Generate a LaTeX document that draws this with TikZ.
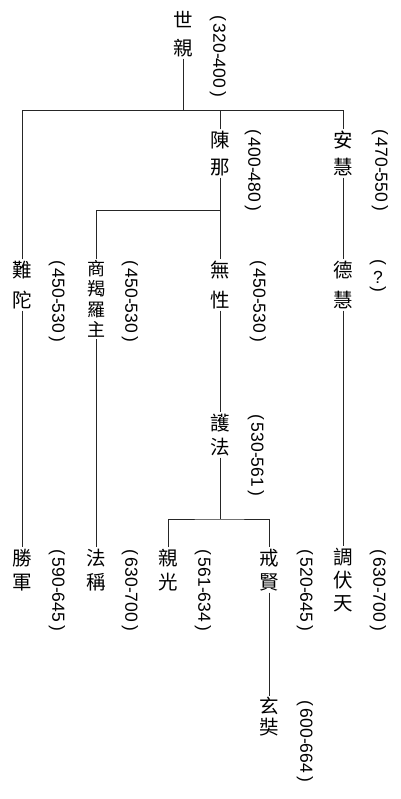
\documentclass[tikz,border=0pt]{standalone}
\usepackage{fontspec}
\setmainfont{Liberation Sans}
\newfontfamily\cjk{Noto Sans CJK TC}
\tikzset{
  nm/.style={font=\cjk\fontsize{19.5}{#1}\selectfont, align=center, inner sep=1.5pt},
  nmsmall/.style={font=\cjk\fontsize{18}{#1}\selectfont, align=center, inner sep=1.5pt},
  dt/.style={font=\fontsize{17.5}{17.5}\selectfont, rotate=-90, inner sep=0pt},
  dtv/.style={font=\fontsize{17.5}{8}\selectfont, align=center, inner sep=0pt},
  ln/.style={line width=0.8pt, black!85}
}
\newcommand{\rparenopen}{\rotatebox[origin=c]{-90}{(}}
\newcommand{\rparenclose}{\rotatebox[origin=c]{-90}{)}}
\begin{document}
\begin{tikzpicture}[x=1pt,y=-1pt]
\useasboundingbox (0,0) rectangle (400,799);
\fill[white] (0,0) rectangle (400,799);
% names
\node[nm=28] (shiqin) at (183,34) {世\\親};
\node[nm=27] (chenna) at (220,153.5) {陳\\那};
\node[nm=27] (anhui) at (343,153.5) {安\\慧};
\node[nm=30] (nanda) at (22,285) {難\\陀};
\node[nmsmall=20.5] (shang) at (96,299) {商\\羯\\羅\\主};
\node[nm=30] (wuxing) at (220,285) {無\\性};
\node[nm=30] (dehui) at (343,285) {德\\慧};
\node[nm=24] (hufa) at (220,435) {護\\法};
\node[nm=24] (shengjun) at (22,570) {勝\\軍};
\node[nm=24] (facheng) at (96,570) {法\\稱};
\node[nm=24] (qinguang) at (168,570) {親\\光};
\node[nm=24] (jiexian) at (269,570) {戒\\賢};
\node[nm=23] (tiaofu) at (343,580) {調\\伏\\天};
\node[nm=21] (xuanzang) at (269,717) {玄\\奘};
% dates
\node[dt] (d1) at (218,56) {(\,320-400\,)};
\node[dt] (d2) at (253,170) {(\,400-480\,)};
\node[dt] (d3) at (380,170) {(\,470-550\,)};
\node[dt] (d4) at (57,301) {(\,450-530\,)};
\node[dt] (d5) at (130,301) {(\,450-530\,)};
\node[dt] (d6) at (258,301) {(\,450-530\,)};
\node[dtv] (d7) at (378,277) {\rparenopen\\[3pt] ?\\[3pt] \rparenclose};
\node[dt] (d8) at (256,455) {(\,530-561\,)};
\node[dt] (d9) at (57,590) {(\,590-645\,)};
\node[dt] (d10) at (130,590) {(\,630-700\,)};
\node[dt] (d11) at (203,590) {(\,561-634\,)};
\node[dt] (d12) at (305,590) {(\,520-645\,)};
\node[dt] (d13) at (378,590) {(\,630-700\,)};
\node[dt] (d14) at (305,741) {(\,600-664\,)};
% connectors
\coordinate (j1) at (183,110);
\draw[ln] (shiqin.south) -- (j1);
\draw[ln] (nanda.north) -- (nanda.north |- j1) -- (anhui.north |- j1) -- (anhui.north);
\draw[ln] (chenna.north) -- (chenna.north |- j1);
\coordinate (j2) at (220,210);
\draw[ln] (chenna.south) -- (wuxing.north);
\draw[ln] (shang.north) |- (j2);
\draw[ln] (anhui.south) -- (dehui.north);
\draw[ln] (nanda.south) -- (shengjun.north);
\draw[ln] (shang.south) -- (facheng.north);
\draw[ln] (dehui.south) -- (tiaofu.north);
\draw[ln] (wuxing.south) -- (hufa.north);
\coordinate (j3) at (220,519);
\draw[ln] (hufa.south) -- (j3);
\draw[ln] (qinguang.north) |- (j3) -| (jiexian.north);
\draw[ln] (jiexian.south) -- (xuanzang.north);
\end{tikzpicture}
\end{document}
